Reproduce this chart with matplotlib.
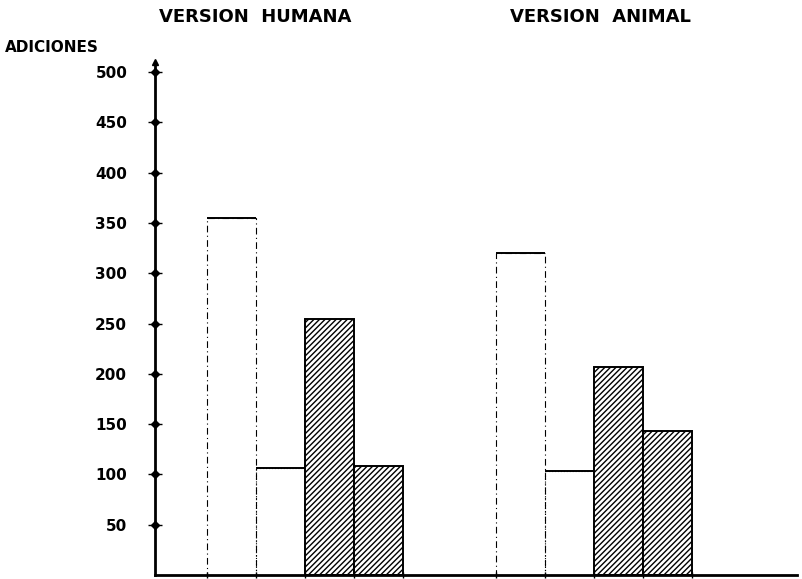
import matplotlib.pyplot as plt
import numpy as np

# (ADICIONES)
groups = ['VERSION  HUMANA', 'VERSION  ANIMAL']
humana = [355, 106, 255, 108]
animal = [320, 103, 207, 143]
yticks = [50, 100, 150, 200, 250, 300, 350, 400, 450, 500]

fig = plt.figure(figsize=(8.03, 5.79), dpi=100)
ax = fig.add_axes([155 / 803, 4 / 579, 642 / 803, 513 / 579])
ax.set_xlim(0, 13.1)
ax.set_ylim(0, 510)

plt.rcParams['hatch.linewidth'] = 1.0

starts = [1.06, 6.96]
title_x = [255, 600]
for g, (vals, x0) in enumerate(zip([humana, animal], starts)):
    xs = x0 + np.arange(len(vals))
    # open bars
    ax.bar(xs[0], vals[0], width=1, align='edge', fill=False,
           edgecolor='black', linewidth=0.8, linestyle=(0, (6, 3, 1, 3)))
    ax.bar(xs[1], vals[1], width=1, align='edge', fill=False,
           edgecolor='black', linewidth=0.8, linestyle=':')
    ax.hlines(vals[:2], xs[:2], xs[:2] + 1, color='black', linewidth=1.4)
    # hatched bars
    ax.bar(xs[2:], vals[2:], width=1, align='edge', color='white',
           edgecolor='black', linewidth=1.4, hatch='//////')
    fig.text(title_x[g] / 803, 1 - 17 / 579, groups[g],
             ha='center', va='center', fontsize=13, fontweight='bold',
             family='DejaVu Sans')

for side in ['top', 'right']:
    ax.spines[side].set_visible(False)
ax.spines['left'].set_linewidth(2)
ax.spines['bottom'].set_linewidth(2)
ax.spines['left'].set_bounds(0, 510)

ax.set_yticks(yticks)
ax.set_yticklabels([str(t) for t in yticks], fontsize=11, fontweight='bold',
                   family='DejaVu Sans')
ax.tick_params(axis='y', direction='inout', length=10, width=1, pad=15)
ax.plot(np.zeros(len(yticks)), yticks, 'D', color='black', markersize=4.5,
        clip_on=False)
ax.plot([0], [510], '^', color='black', markersize=5, clip_on=False)

edges = np.concatenate([s + np.arange(5) for s in starts])
ax.set_xticks(edges)
ax.set_xticklabels([])
ax.tick_params(axis='x', direction='inout', length=5, width=1)

fig.text(5 / 803, 1 - 47 / 579, 'ADICIONES', ha='left', va='center',
         fontsize=11, fontweight='bold', family='DejaVu Sans')

fig.savefig('out.png', dpi=100)
